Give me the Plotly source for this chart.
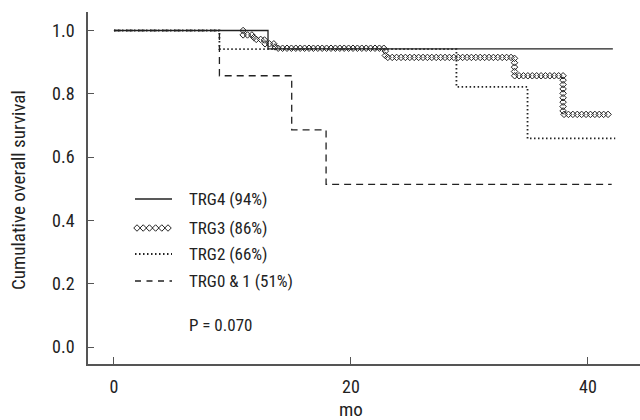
import numpy as np
import plotly.graph_objects as go

# ---------------- data ----------------
trg4_t = [0, 13.0, 42.1]
trg4_s = [1.0, 0.942, 0.942]

trg3_t = [0, 10.9, 11.8, 12.7, 13.6, 22.9, 33.8, 37.9, 42.0]
trg3_s = [1.0, 0.986, 0.972, 0.958, 0.944, 0.915, 0.857, 0.735, 0.735]

trg2_t = [0, 8.9, 28.9, 34.9, 42.3]
trg2_s = [1.0, 0.941, 0.822, 0.659, 0.659]

trg01_t = [0, 8.9, 15.0, 17.9, 42.0]
trg01_s = [1.0, 0.857, 0.686, 0.514, 0.514]

legend_labels = ["TRG4 (94%)", "TRG3 (86%)", "TRG2 (66%)", "TRG0 & 1 (51%)"]
p_text = "P = 0.070"
x_title = "mo"
y_title = "Cumulative overall survival"
x_ticks = [0, 20, 40]
y_ticks = [0.0, 0.2, 0.4, 0.6, 0.8, 1.0]

# ---------------- layout constants ----------------
W, H = 640, 420
ML, MR, MT, MB = 88, 0, 12, 56
XR = [-2.19, 44.39]
YR = [-0.0537, 1.0585]
FONT = "Liberation Sans Narrow, Roboto Condensed, Roboto, Liberation Sans, sans-serif"
INK = "#222222"

PW, PH = W - ML - MR, H - MT - MB
px_per_x = PW / (XR[1] - XR[0])
px_per_y = PH / (YR[1] - YR[0])


def px2paper(px, py):
    return (px - ML) / PW, (H - MB - py) / PH


def step_xy(t, s):
    xs, ys = [t[0]], [s[0]]
    for i in range(1, len(t)):
        xs += [t[i], t[i]]
        ys += [s[i - 1], s[i]]
    return xs, ys


def dense_along(xs, ys, spacing_px=4.4):
    """Marker positions spaced evenly (in pixels) along a path -- line style only."""
    px = np.array(xs) * px_per_x
    py = np.array(ys) * px_per_y
    seg = np.hypot(np.diff(px), np.diff(py))
    cum = np.concatenate([[0], np.cumsum(seg)])
    d = np.arange(0, cum[-1] + 1e-9, spacing_px)
    return np.interp(d, cum, xs).tolist(), np.interp(d, cum, ys).tolist()


fig = go.Figure()

x4, y4 = step_xy(trg4_t, trg4_s)
fig.add_trace(go.Scatter(x=x4, y=y4, mode="lines",
                         line=dict(color=INK, width=1.3), hoverinfo="skip"))

x2, y2 = step_xy(trg2_t, trg2_s)
fig.add_trace(go.Scatter(x=x2, y=y2, mode="lines",
                         line=dict(color=INK, width=1.8, dash="1.5px,2.5px"), hoverinfo="skip"))

x01, y01 = step_xy(trg01_t, trg01_s)
fig.add_trace(go.Scatter(x=x01, y=y01, mode="lines",
                         line=dict(color=INK, width=1.3, dash="7px,5px"), hoverinfo="skip"))

x3, y3 = step_xy(trg3_t, trg3_s)
# diamond line style starts where the curve departs from the others
dx3, dy3 = dense_along(x3[1:], y3[1:])
fig.add_trace(go.Scatter(x=dx3, y=dy3, mode="markers",
                         marker=dict(symbol="diamond-open", size=5, color=INK,
                                     line=dict(width=1, color=INK)),
                         hoverinfo="skip"))

# ---------------- legend (drawn on a pixel overlay axis) ----------------
leg_y = [199, 228, 254, 281]
lx0, lx1, tx = 135, 172, 187
lxd = np.arange(lx0 + 2, lx1, 6.2)
fig.add_trace(go.Scatter(x=[lx0, lx1], y=[leg_y[0]] * 2, xaxis="x2", yaxis="y2", mode="lines",
                         line=dict(color=INK, width=1.3), hoverinfo="skip"))
fig.add_trace(go.Scatter(x=lxd.tolist(), y=[leg_y[1]] * len(lxd),
                         xaxis="x2", yaxis="y2", mode="markers",
                         marker=dict(symbol="diamond-open", size=5, color=INK,
                                     line=dict(width=1, color=INK)), hoverinfo="skip"))
fig.add_trace(go.Scatter(x=[lx0, lx1], y=[leg_y[2]] * 2, xaxis="x2", yaxis="y2", mode="lines",
                         line=dict(color=INK, width=1.8, dash="1.5px,2.5px"), hoverinfo="skip"))
fig.add_trace(go.Scatter(x=[lx0, lx1], y=[leg_y[3]] * 2, xaxis="x2", yaxis="y2", mode="lines",
                         line=dict(color=INK, width=1.3, dash="6px,5.5px"), hoverinfo="skip"))

annotations = []
for lab, yy in zip(legend_labels + [p_text], leg_y + [325]):
    ax, ay = px2paper(tx, yy)
    annotations.append(dict(x=ax, y=ay, xref="paper", yref="paper", text=lab, showarrow=False,
                            xanchor="left", yanchor="middle",
                            font=dict(family=FONT, size=17, color=INK)))
# axis titles
ax, ay = px2paper(351, 409)
annotations.append(dict(x=ax, y=ay, xref="paper", yref="paper", text=x_title, showarrow=False,
                        xanchor="center", yanchor="middle",
                        font=dict(family=FONT, size=19, color=INK)))
ax, ay = px2paper(19, 190)
annotations.append(dict(x=ax, y=ay, xref="paper", yref="paper", text=y_title, showarrow=False,
                        xanchor="center", yanchor="middle", textangle=-90,
                        font=dict(family=FONT, size=19, color=INK)))

fig.update_layout(
    width=W, height=H,
    margin=dict(l=ML, r=MR, t=MT, b=MB),
    paper_bgcolor="white", plot_bgcolor="white",
    showlegend=False,
    font=dict(family=FONT, size=18, color=INK),
    xaxis=dict(range=XR, tickvals=x_ticks, ticktext=[str(v) for v in x_ticks],
               ticks="inside", ticklen=7, tickcolor="#555", tickwidth=1,
               showline=True, linecolor="#555", linewidth=1.5,
               showgrid=False, zeroline=False, automargin=False,
               ticklabelstandoff=6,
               tickfont=dict(family=FONT, size=18)),
    yaxis=dict(range=YR, tickvals=y_ticks, ticktext=[f"{v:.1f}" for v in y_ticks],
               ticks="inside", ticklen=6, tickcolor="#555", tickwidth=1,
               showline=True, linecolor="#555", linewidth=1.5,
               showgrid=False, zeroline=False, automargin=False,
               ticklabelstandoff=8,
               tickfont=dict(family=FONT, size=18)),
    xaxis2=dict(range=[ML, W - MR], overlaying="x", visible=False, fixedrange=True),
    yaxis2=dict(range=[H - MB, MT], overlaying="y", visible=False, fixedrange=True),
    annotations=annotations,
)

fig.write_html("out.html", config={"displayModeBar": False},
               post_script="document.body.style.margin='0';")
